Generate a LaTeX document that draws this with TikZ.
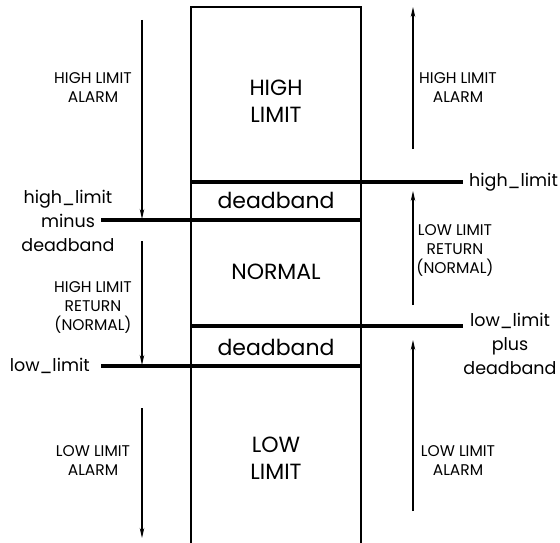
\documentclass[tikz,border=0pt]{standalone}
\usepackage{fontspec}
\setmainfont{Poppins}
\usetikzlibrary{arrows.meta}
\begin{document}
\begin{tikzpicture}[x=1pt,y=-1pt,
  boxline/.style={line width=2.2pt},
  limitline/.style={line width=4pt},
  arr/.style={line width=1.3pt,-{Stealth[length=10pt,width=4.5pt]}},
  big/.style={font=\fontsize{22}{27}\selectfont,align=center,inner sep=0pt},
  mid/.style={font=\fontsize{17.5}{24}\selectfont,align=center,inner sep=0pt},
  small/.style={font=\fontsize{15.5}{19}\selectfont,align=center,inner sep=0pt}]
\useasboundingbox (0,0) rectangle (560,543);
% box
\coordinate (bl) at (191,543);
\coordinate (tl) at (191,7);
\coordinate (tr) at (361,7);
\coordinate (br) at (361,543);
\draw[boxline] (bl) -- (tl) -- (tr) -- (br);
% limit lines
\coordinate (hlA) at (191,182); \coordinate (hlB) at (463,182);
\coordinate (hmA) at (101,220); \coordinate (hmB) at (361,220);
\coordinate (lpA) at (191,326); \coordinate (lpB) at (463,326);
\coordinate (llA) at (101,366); \coordinate (llB) at (361,366);
\draw[limitline] (hlA) -- (hlB);
\draw[limitline] (hmA) -- (hmB);
\draw[limitline] (lpA) -- (lpB);
\draw[limitline] (llA) -- (llB);
% box texts
\node[big] (hi) at (276,101) {HIGH\\LIMIT};
\node[big] (db1) at (276,200) {deadband};
\node[big] (norm) at (276,272) {NORMAL};
\node[big] (db2) at (276,347) {deadband};
\node[big] (lo) at (276,458) {LOW\\LIMIT};
% side labels
\node[mid,anchor=west] (hlR) at (469,182) {high\_limit};
\node[mid] (hmL) at (68,221) {high\_limit\\minus\\deadband};
\node[mid,anchor=east] (llL) at (90,366) {low\_limit};
\node[mid] (lpR) at (510,344) {low\_limit\\plus\\deadband};
% small labels
\node[small] (la1) at (93,88) {HIGH LIMIT\\ALARM};
\node[small] (la2) at (93,307) {HIGH LIMIT\\RETURN\\(NORMAL)};
\node[small] (la3) at (93,461) {LOW LIMIT\\ALARM};
\node[small] (ra1) at (458,88) {HIGH LIMIT\\ALARM};
\node[small] (ra2) at (455,250) {LOW LIMIT\\RETURN\\(NORMAL)};
\node[small] (ra3) at (458,461) {LOW LIMIT\\ALARM};
% arrows
\coordinate (a1s) at (142,20);  \coordinate (a1e) at (142,219);
\coordinate (a2s) at (142,241); \coordinate (a2e) at (142,365);
\coordinate (a3s) at (142,408); \coordinate (a3e) at (142,538);
\coordinate (b1s) at (413,149); \coordinate (b1e) at (413,7);
\coordinate (b2s) at (413,305); \coordinate (b2e) at (413,191);
\coordinate (b3s) at (413,511); \coordinate (b3e) at (413,340);
\draw[arr] (a1s) -- (a1e);
\draw[arr] (a2s) -- (a2e);
\draw[arr] (a3s) -- (a3e);
\draw[arr] (b1s) -- (b1e);
\draw[arr] (b2s) -- (b2e);
\draw[arr] (b3s) -- (b3e);
\end{tikzpicture}
\end{document}
